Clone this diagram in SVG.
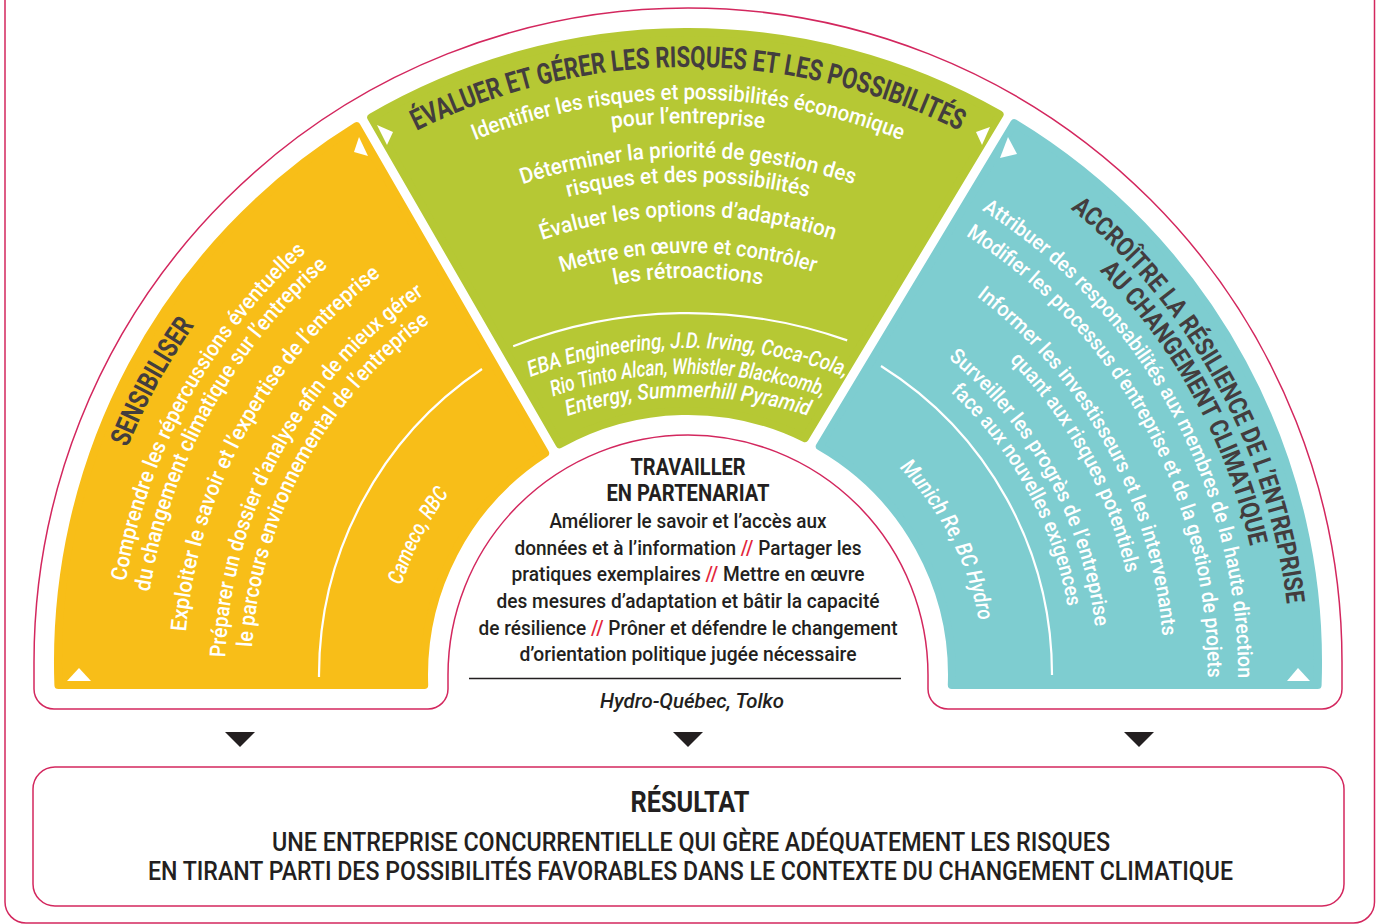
<svg xmlns="http://www.w3.org/2000/svg" width="1376" height="924" viewBox="0 0 1376 924">
<style>
  .ttl { font-family: Roboto, "Liberation Sans", sans-serif; font-weight: 700; fill: #433d3e; }
  .wt { font-family: Roboto, "Liberation Sans", sans-serif; fill: #ffffff; font-size: 22px; font-weight: 500; }
  .wt20 { font-size: 21px; }
  .it { font-style: italic; }
  .dk { font-family: Roboto, "Liberation Sans", sans-serif; fill: #231f20; }
  .red { fill: #e3263b; }
  .pk { fill: none; stroke: #d3275e; stroke-width: 1.5; }
  .tri { fill: #ffffff; }
  .arr { fill: #231f20; }
  .rule { fill: none; stroke: #ffffff; stroke-width: 2.2; }
  .seg { stroke-width: 8; stroke-linejoin: round; }
</style>
<defs>
  <!-- baselines, yellow sector -->
  <path id="yp1" d="M309.8,1147.1 A605,605 0 0 1 882.0,101.9"/>
  <path id="yp2" d="M331.6,1119.8 A570,570 0 0 1 870.7,135.1"/>
  <path id="yp3" d="M347.3,1100.3 A545,545 0 0 1 862.7,158.8"/>
  <path id="yp4" d="M372.9,1068.3 A504,504 0 0 1 849.6,197.6"/>
  <path id="yp5" d="M398.5,1036.3 A463,463 0 0 1 836.4,236.4"/>
  <path id="yp6" d="M414.8,1016.0 A437,437 0 0 1 828.1,261.1"/>
  <path id="yp7" d="M506.2,913.7 A300,300 0 0 1 777.2,388.6"/>
  <!-- baselines, teal sector -->
  <path id="tp1" d="M494.7,103.8 A603,603 0 0 1 1065.0,1145.6"/>
  <path id="tp2" d="M503.0,128.5 A577,577 0 0 1 1048.7,1125.3"/>
  <path id="tp3" d="M511.7,154.0 A550,550 0 0 1 1031.9,1104.2"/>
  <path id="tp4" d="M521.3,182.5 A520,520 0 0 1 1013.1,1080.8"/>
  <path id="tp5" d="M535.4,224.1 A476,476 0 0 1 985.6,1046.5"/>
  <path id="tp6" d="M543.7,248.8 A450,450 0 0 1 969.3,1026.2"/>
  <path id="tp7" d="M556.6,286.6 A410,410 0 0 1 944.3,995.0"/>
  <path id="tp8" d="M564.2,309.4 A386,386 0 0 1 929.3,976.2"/>
  <path id="tp9" d="M599.0,392.7 A296,296 0 0 1 868.2,909.8"/>
  <!-- baselines, green sector -->
  <path id="gp0" d="M89.2,569.5 A608,608 0 0 1 1286.8,569.5"/>
  <path id="gp1" d="M120.8,575.0 A576,576 0 0 1 1255.2,575.0"/>
  <path id="gp2" d="M144.4,579.2 A552,552 0 0 1 1231.6,579.2"/>
  <path id="gp3" d="M177.9,585.1 A518,518 0 0 1 1198.1,585.1"/>
  <path id="gp4" d="M202.5,589.4 A493,493 0 0 1 1173.5,589.4"/>
  <path id="gp5" d="M236.0,595.3 A459,459 0 0 1 1140.0,595.3"/>
  <path id="gp6" d="M272.4,601.7 A422,422 0 0 1 1103.6,601.7"/>
  <path id="gp7" d="M297.0,606.1 A397,397 0 0 1 1079.0,606.1"/>
  <path id="cp1" d="M305.2,569 A442,442 0 0 1 1070.8,569"/>
  <path id="cp2" d="M327.7,582 A416,416 0 0 1 1048.3,582"/>
  <path id="cp3" d="M347.7,593.5 A393,393 0 0 1 1028.3,593.5"/>
</defs>

<rect width="1376" height="924" fill="#ffffff"/>

<!-- page frame -->
<g id="frame">
  <rect x="5" y="-40" width="1369.5" height="963" rx="21" class="pk"/>
</g>

<!-- pink arch around the three sectors and the centre -->
<g id="arch">
  <path class="pk" d="M34,689 L34,662 A654,654 0 0 1 1342,662 L1342,689 A20,20 0 0 1 1322,709 L948,709 A20,20 0 0 1 928,689 L928,675 A240,240 0 0 0 448,675 L448,689 A20,20 0 0 1 428,709 L54,709 A20,20 0 0 1 34,689 Z"/>
</g>

<!-- SENSIBILISER -->
<g id="sensibiliser">
  <path class="seg" fill="#f8be18" stroke="#f8be18" d="M58.4,685 A630,630 0 0 1 356.6,126.2 L545.1,453.1 A264,264 0 0 0 424.2,685 Z"/>
  <polygon class="tri" points="359,137 354,152 368,156"/>
  <polygon class="tri" points="79,668 67,681 91,681"/>
  <text class="ttl" font-size="28" text-anchor="middle"><textPath href="#yp1" startOffset="50%" textLength="140" lengthAdjust="spacingAndGlyphs">SENSIBILISER</textPath></text>
  <text class="wt" text-anchor="middle"><textPath href="#yp2" startOffset="50%" textLength="383" lengthAdjust="spacingAndGlyphs">Comprendre les répercussions éventuelles</textPath></text>
  <text class="wt" text-anchor="middle"><textPath href="#yp3" startOffset="50%" textLength="379" lengthAdjust="spacingAndGlyphs">du changement climatique sur l’entreprise</textPath></text>
  <text class="wt" text-anchor="middle"><textPath href="#yp4" startOffset="50%" textLength="418" lengthAdjust="spacingAndGlyphs">Exploiter le savoir et l’expertise de l’entreprise</textPath></text>
  <text class="wt" text-anchor="middle"><textPath href="#yp5" startOffset="50%" textLength="429" lengthAdjust="spacingAndGlyphs">Préparer un dossier d’analyse afin de mieux gérer</textPath></text>
  <text class="wt" text-anchor="middle"><textPath href="#yp6" startOffset="50%" textLength="382" lengthAdjust="spacingAndGlyphs">le parcours environnemental de l’entreprise</textPath></text>
  <path class="rule" d="M319,677 A369,369 0 0 1 482,369"/>
  <text class="wt it" font-size="21" text-anchor="middle"><textPath href="#yp7" startOffset="50%" textLength="104" lengthAdjust="spacingAndGlyphs">Cameco, RBC</textPath></text>
</g>

<!-- ÉVALUER ET GÉRER -->
<g id="evaluer">
  <path class="seg" fill="#b6c834" stroke="#b6c834" d="M371.2,117.5 A630,630 0 0 1 999.6,114.5 L804.8,438.2 A264,264 0 0 0 559.6,444.3 Z"/>
  <polygon class="tri" points="377,125 393,132 387,145"/>
  <polygon class="tri" points="990,127 976,132 982,145"/>
  <text class="ttl" font-size="29" text-anchor="middle"><textPath href="#gp0" startOffset="50%" textLength="563" lengthAdjust="spacingAndGlyphs">ÉVALUER ET GÉRER LES RISQUES ET LES POSSIBILITÉS</textPath></text>
  <text class="wt" text-anchor="middle"><textPath href="#gp1" startOffset="50%" textLength="437" lengthAdjust="spacingAndGlyphs">Identifier les risques et possibilités économique</textPath></text>
  <text class="wt" text-anchor="middle"><textPath href="#gp2" startOffset="50%" textLength="153" lengthAdjust="spacingAndGlyphs">pour l’entreprise</textPath></text>
  <text class="wt" text-anchor="middle"><textPath href="#gp3" startOffset="50%" textLength="337" lengthAdjust="spacingAndGlyphs">Déterminer la priorité de gestion des</textPath></text>
  <text class="wt" text-anchor="middle"><textPath href="#gp4" startOffset="50%" textLength="243" lengthAdjust="spacingAndGlyphs">risques et des possibilités</textPath></text>
  <text class="wt" text-anchor="middle"><textPath href="#gp5" startOffset="50%" textLength="297" lengthAdjust="spacingAndGlyphs">Évaluer les options d’adaptation</textPath></text>
  <text class="wt" text-anchor="middle"><textPath href="#gp6" startOffset="50%" textLength="257" lengthAdjust="spacingAndGlyphs">Mettre en œuvre et contrôler</textPath></text>
  <text class="wt" text-anchor="middle"><textPath href="#gp7" startOffset="50%" textLength="149" lengthAdjust="spacingAndGlyphs">les rétroactions</textPath></text>
  <path class="rule" d="M513.2,346.2 A477,477 0 0 1 847.2,340.4"/>
  <text class="wt it" font-size="21" text-anchor="middle"><textPath href="#cp1" startOffset="50%" textLength="322" lengthAdjust="spacingAndGlyphs">EBA Engineering, J.D. Irving, Coca-Cola,</textPath></text>
  <text class="wt it" font-size="21" text-anchor="middle"><textPath href="#cp2" startOffset="50%" textLength="275" lengthAdjust="spacingAndGlyphs">Rio Tinto Alcan, Whistler Blackcomb,</textPath></text>
  <text class="wt it" font-size="21" text-anchor="middle"><textPath href="#cp3" startOffset="50%" textLength="245" lengthAdjust="spacingAndGlyphs">Entergy, Summerhill Pyramid</textPath></text>
</g>

<!-- ACCROÎTRE LA RÉSILIENCE -->
<g id="accroitre">
  <path class="seg" fill="#7ecdd0" stroke="#7ecdd0" d="M1014.3,123.1 A630,630 0 0 1 1317.6,685 L951.8,685 A264,264 0 0 0 819.8,446.3 Z"/>
  <polygon class="tri" points="1008,137 1000,158 1017,154"/>
  <polygon class="tri" points="1298,668 1287,681 1310,681"/>
  <text class="ttl" font-size="26" text-anchor="middle"><textPath href="#tp1" startOffset="50%" textLength="462" lengthAdjust="spacingAndGlyphs">ACCROÎTRE LA RÉSILIENCE DE L’ENTREPRISE</textPath></text>
  <text class="ttl" font-size="26" text-anchor="middle"><textPath href="#tp2" startOffset="50%" textLength="318" lengthAdjust="spacingAndGlyphs">AU CHANGEMENT CLIMATIQUE</textPath></text>
  <text class="wt wt20" text-anchor="middle"><textPath href="#tp3" startOffset="50%" textLength="557" lengthAdjust="spacingAndGlyphs">Attribuer des responsabilités aux membres de la haute direction</textPath></text>
  <text class="wt wt20" text-anchor="middle"><textPath href="#tp4" startOffset="50%" textLength="526" lengthAdjust="spacingAndGlyphs">Modifier les processus d’entreprise et de la gestion de projets</textPath></text>
  <text class="wt wt20" text-anchor="middle"><textPath href="#tp5" startOffset="50%" textLength="399" lengthAdjust="spacingAndGlyphs">Informer les investisseurs et les intervenants</textPath></text>
  <text class="wt wt20" text-anchor="middle"><textPath href="#tp6" startOffset="50%" textLength="246" lengthAdjust="spacingAndGlyphs">quant aux risques potentiels</textPath></text>
  <text class="wt wt20" text-anchor="middle"><textPath href="#tp7" startOffset="50%" textLength="314" lengthAdjust="spacingAndGlyphs">Surveiller les progrès de l’entreprise</textPath></text>
  <text class="wt wt20" text-anchor="middle"><textPath href="#tp8" startOffset="50%" textLength="249" lengthAdjust="spacingAndGlyphs">face aux nouvelles exigences</textPath></text>
  <path class="rule" d="M881,366 A364,364 0 0 1 1052,675"/>
  <text class="wt it" font-size="21" text-anchor="middle"><textPath href="#tp9" startOffset="50%" textLength="175" lengthAdjust="spacingAndGlyphs">Munich Re, BC Hydro</textPath></text>
</g>

<!-- TRAVAILLER EN PARTENARIAT -->
<g id="partenariat" text-anchor="middle">
  <text class="dk" x="688" y="475" font-size="23" font-weight="700" textLength="115" lengthAdjust="spacingAndGlyphs">TRAVAILLER</text>
  <text class="dk" x="688" y="501" font-size="23" font-weight="700" textLength="163" lengthAdjust="spacingAndGlyphs">EN PARTENARIAT</text>
  <text class="dk" x="688" y="528" font-size="20.5" font-weight="500" textLength="277" lengthAdjust="spacingAndGlyphs">Améliorer le savoir et l’accès aux</text>
  <text class="dk" x="688" y="555" font-size="20.5" font-weight="500" textLength="347" lengthAdjust="spacingAndGlyphs">données et à l’information <tspan class="red">//</tspan> Partager les</text>
  <text class="dk" x="688" y="581" font-size="20.5" font-weight="500" textLength="353" lengthAdjust="spacingAndGlyphs">pratiques exemplaires <tspan class="red">//</tspan> Mettre en œuvre</text>
  <text class="dk" x="688" y="608" font-size="20.5" font-weight="500" textLength="383" lengthAdjust="spacingAndGlyphs">des mesures d’adaptation et bâtir la capacité</text>
  <text class="dk" x="688" y="635" font-size="20.5" font-weight="500" textLength="419" lengthAdjust="spacingAndGlyphs">de résilience <tspan class="red">//</tspan> Prôner et défendre le changement</text>
  <text class="dk" x="688" y="661" font-size="20.5" font-weight="500" textLength="337" lengthAdjust="spacingAndGlyphs">d’orientation politique jugée nécessaire</text>
  <line x1="469" y1="678.5" x2="901" y2="678.5" stroke="#231f20" stroke-width="1.3"/>
  <text class="dk it" x="692" y="708" font-size="21" font-weight="500" textLength="184" lengthAdjust="spacingAndGlyphs">Hydro-Québec, Tolko</text>
</g>

<!-- arrows down to the result -->
<g id="connectors">
  <polygon class="arr" points="225,732 255,732 240,747"/>
  <polygon class="arr" points="673,732 703,732 688,747"/>
  <polygon class="arr" points="1124,732 1154,732 1139,747"/>
</g>

<!-- RÉSULTAT -->
<g id="resultat" text-anchor="middle">
  <rect x="33" y="767" width="1311" height="139" rx="22" class="pk"/>
  <text class="dk" x="690" y="812" font-size="30" font-weight="700" textLength="119" lengthAdjust="spacingAndGlyphs">RÉSULTAT</text>
  <text class="dk" x="691" y="851" font-size="26" font-weight="500" textLength="838" lengthAdjust="spacingAndGlyphs">UNE ENTREPRISE CONCURRENTIELLE QUI GÈRE ADÉQUATEMENT LES RISQUES</text>
  <text class="dk" x="690.5" y="880" font-size="26" font-weight="500" textLength="1085" lengthAdjust="spacingAndGlyphs">EN TIRANT PARTI DES POSSIBILITÉS FAVORABLES DANS LE CONTEXTE DU CHANGEMENT CLIMATIQUE</text>
</g>
</svg>
